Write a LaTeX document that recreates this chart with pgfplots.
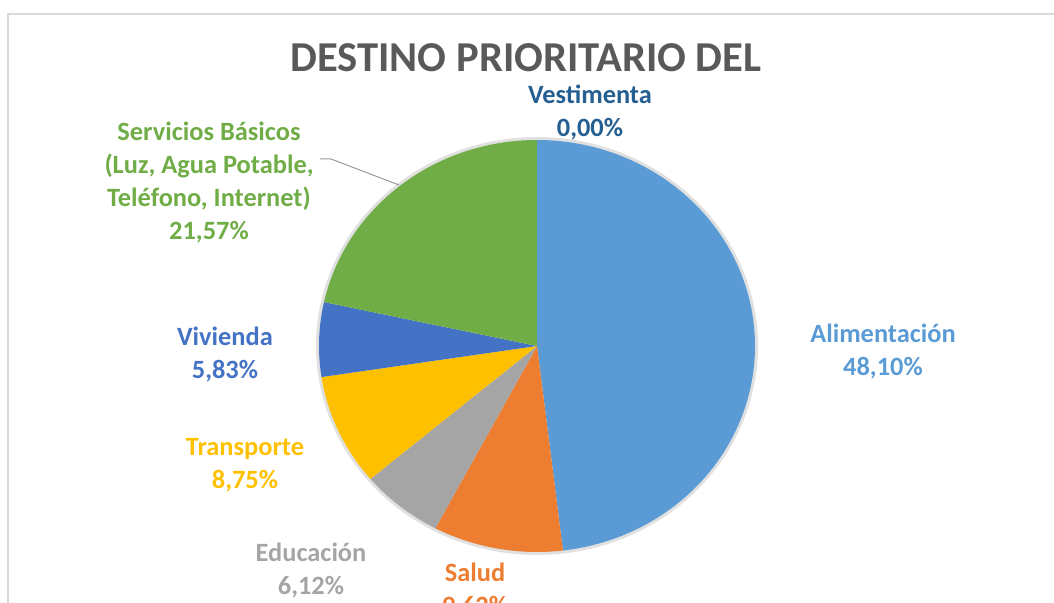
\documentclass[border=0pt]{standalone}
\usepackage{pgfplots}
\pgfplotsset{compat=1.18}
\usepackage{fontspec}
\setmainfont{Carlito}
\definecolor{alim}{HTML}{5B9BD5}
\definecolor{salud}{HTML}{ED7D31}
\definecolor{educ}{HTML}{A5A5A5}
\definecolor{transp}{HTML}{FFC000}
\definecolor{viv}{HTML}{4472C4}
\definecolor{serv}{HTML}{70AD47}
\definecolor{vest}{HTML}{255E91}
\definecolor{titlec}{HTML}{595959}
\begin{document}
\begin{tikzpicture}
% shares in percent
\def\vA{48.10}\def\vS{9.62}\def\vE{6.12}\def\vT{8.75}\def\vV{5.83}\def\vSB{21.57}\def\vVe{0.00}
\pgfmathsetmacro\aA{90}
\pgfmathsetmacro\aB{\aA-3.6*\vA}
\pgfmathsetmacro\aC{\aB-3.6*\vS}
\pgfmathsetmacro\aD{\aC-3.6*\vE}
\pgfmathsetmacro\aE{\aD-3.6*\vT}
\pgfmathsetmacro\aF{\aE-3.6*\vV}
\pgfmathsetmacro\aG{\aF-3.6*\vSB}
\begin{axis}[scale only axis, width=527pt, height=301.5pt,
  xmin=0, xmax=1054, ymin=-603, ymax=0, hide axis, clip=false]
\addplot[draw=black!12, line width=3pt, domain=0:360, samples=240, variable=\t]
  ({537+218*cos(\t)},{-346+206*sin(\t)});
\addplot[draw=none, fill=alim, domain=\aB:\aA, samples=120, variable=\t]
  ({537+218*cos(\t)},{-346+206*sin(\t)}) -- (axis cs:537,-346) -- cycle;
\addplot[draw=none, fill=salud, domain=\aC:\aB, samples=40, variable=\t]
  ({537+218*cos(\t)},{-346+206*sin(\t)}) -- (axis cs:537,-346) -- cycle;
\addplot[draw=none, fill=educ, domain=\aD:\aC, samples=30, variable=\t]
  ({537+218*cos(\t)},{-346+206*sin(\t)}) -- (axis cs:537,-346) -- cycle;
\addplot[draw=none, fill=transp, domain=\aE:\aD, samples=40, variable=\t]
  ({537+218*cos(\t)},{-346+206*sin(\t)}) -- (axis cs:537,-346) -- cycle;
\addplot[draw=none, fill=viv, domain=\aF:\aE, samples=30, variable=\t]
  ({537+218*cos(\t)},{-346+206*sin(\t)}) -- (axis cs:537,-346) -- cycle;
\addplot[draw=none, fill=serv, domain=\aG:\aF, samples=80, variable=\t]
  ({537+218*cos(\t)},{-346+206*sin(\t)}) -- (axis cs:537,-346) -- cycle;
% frame
\draw[black!15, line width=1.2pt] (axis cs:8,-610) -- (axis cs:8,-14) -- (axis cs:1060,-14);
% leader line
\draw[black!40, line width=0.5pt] (axis cs:320,-159) -- (axis cs:331,-159) -- (axis cs:399,-185);
% title
\node[text=titlec, font=\bfseries\fontsize{21.3}{25}\selectfont, anchor=base] at (axis cs:526,-72) {DESTINO PRIORITARIO DEL};
% labels (anchored at the baseline of the last line)
\tikzset{lab/.style={font=\bfseries\fontsize{13.2}{16.6}\selectfont, align=center, anchor=base}}
\node[lab, text=alim] at (axis cs:883,-376) {Alimentación\\48,10\%};
\node[lab, text=salud] at (axis cs:475,-615) {Salud\\9,62\%};
\node[lab, text=educ] at (axis cs:311,-595) {Educación\\6,12\%};
\node[lab, text=transp] at (axis cs:245,-489) {Transporte\\8,75\%};
\node[lab, text=viv] at (axis cs:225,-379) {Vivienda\\5,83\%};
\node[lab, text=serv] at (axis cs:209,-240) {Servicios Básicos\\(Luz, Agua Potable,\\Teléfono, Internet)\\21,57\%};
\node[lab, text=vest] at (axis cs:590,-137) {Vestimenta\\0,00\%};
\end{axis}
\pgfresetboundingbox
\path (0,0) rectangle (527pt,301.5pt);
\end{tikzpicture}
\end{document}
